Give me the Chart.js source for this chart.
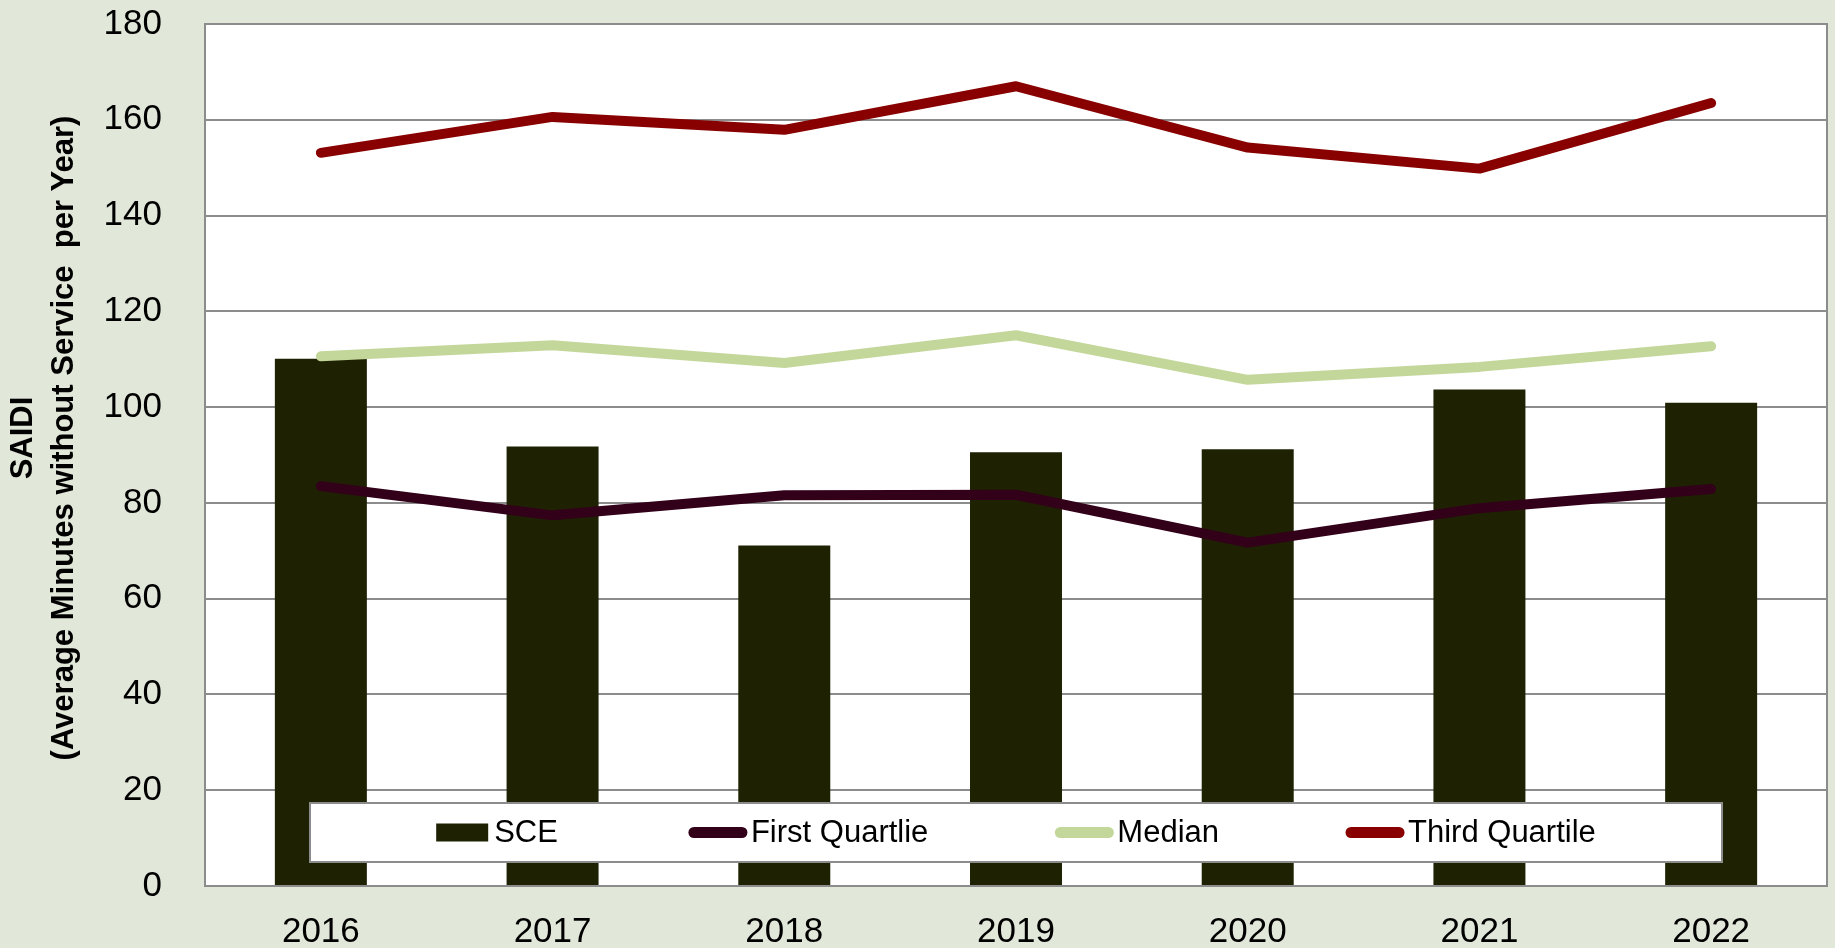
<!DOCTYPE html>
<html>
<head>
<meta charset="utf-8">
<script src="https://cdn.jsdelivr.net/npm/chart.js@4.4.0/dist/chart.umd.min.js"></script>
<style>
html,body{margin:0;padding:0;background:#E1E7D9;}
#wrap{width:1835px;height:948px;position:relative;}
</style>
</head>
<body>
<div id="wrap"><canvas id="c" width="1835" height="948"></canvas></div>
<script>
// ---- data ----
const years = ['2016', '2017', '2018', '2019', '2020', '2021', '2022'];
const sce = [110.1, 91.8, 71.1, 90.6, 91.2, 103.7, 100.9];
const firstQuartile = [83.5, 77.4, 81.6, 81.7, 71.7, 78.9, 82.9];
const median = [110.6, 112.9, 109.2, 115.0, 105.7, 108.4, 112.7];
const thirdQuartile = [153.1, 160.6, 157.9, 167.0, 154.2, 149.8, 163.5];
const seriesNames = ['SCE', 'First Quartlie', 'Median', 'Third Quartile'];
const yMin = 0, yMax = 180, yStep = 20;
const yTitle = ['SAIDI', '(Average Minutes without Service  per Year)'];

const FONT = '"Liberation Sans", Arial, Helvetica, sans-serif';
const BG = '#E1E7D9';
const GRID = '#8c8c8c';

const bgPlugin = {
  id: 'bgPlugin',
  beforeDraw(chart) {
    const ctx = chart.ctx, ca = chart.chartArea;
    ctx.save();
    ctx.fillStyle = BG;
    ctx.fillRect(0, 0, chart.width, chart.height);
    ctx.fillStyle = '#ffffff';
    ctx.fillRect(ca.left, ca.top, ca.right - ca.left, ca.bottom - ca.top);
    ctx.restore();
  },
  beforeDatasetsDraw(chart) {
    const ctx = chart.ctx, ca = chart.chartArea;
    ctx.save();
    ctx.strokeStyle = GRID;
    ctx.lineWidth = 2;
    ctx.strokeRect(ca.left, ca.top, ca.right - ca.left, ca.bottom - ca.top);
    ctx.restore();
  }
};

const legendPlugin = {
  id: 'boxLegend',
  afterDraw(chart) {
    const ctx = chart.ctx, ca = chart.chartArea;
    const bw = 1412, bh = 59;
    const bx = (ca.left + ca.right) / 2 - bw / 2;
    const by = ca.bottom - 24 - bh;
    ctx.save();
    ctx.fillStyle = '#ffffff';
    ctx.fillRect(bx, by, bw, bh);
    ctx.strokeStyle = GRID;
    ctx.lineWidth = 2;
    ctx.strokeRect(bx, by, bw, bh);
    ctx.font = '31px ' + FONT;
    const sw = 58, gap = 4, spacing = 127;
    const items = chart.data.datasets.map(d => ({
      label: d.label, type: d.type, color: d.type === 'bar' ? d.backgroundColor : d.borderColor
    }));
    const widths = items.map(it => sw + gap + ctx.measureText(it.label).width);
    const total = widths.reduce((a, b) => a + b, 0) + spacing * (items.length - 1);
    let x = bx + bw / 2 - total / 2;
    const cy = by + bh / 2;
    items.forEach((it, i) => {
      if (it.type === 'bar') {
        ctx.fillStyle = it.color;
        ctx.fillRect(x, cy - 9, 52, 18);
      } else {
        ctx.strokeStyle = it.color;
        ctx.lineWidth = 11;
        ctx.lineCap = 'round';
        ctx.beginPath();
        ctx.moveTo(x + 5, cy);
        ctx.lineTo(x + sw - 5, cy);
        ctx.stroke();
      }
      ctx.fillStyle = '#000000';
      ctx.textBaseline = 'middle';
      ctx.textAlign = 'left';
      ctx.fillText(it.label, x + (it.type === 'bar' ? 52 + 6 : sw + gap), cy + 1);
      x += widths[i] + spacing;
    });
    ctx.restore();
  }
};

const yTitlePlugin = {
  id: 'yTitle',
  afterDraw(chart) {
    const ctx = chart.ctx;
    ctx.save();
    ctx.translate(23, 438);
    ctx.rotate(-Math.PI / 2);
    ctx.textAlign = 'center';
    ctx.textBaseline = 'middle';
    ctx.fillStyle = '#000000';
    ctx.font = 'bold 31px ' + FONT;
    ctx.fillText(yTitle[0], 0, 0);
    ctx.fillText(yTitle[1], 0, 41);
    ctx.restore();
  }
};

const lineStyle = { borderWidth: 10, pointRadius: 0, pointHoverRadius: 0, borderCapStyle: 'round', borderJoinStyle: 'round', tension: 0, order: 1 };

new Chart(document.getElementById('c'), {
  data: {
    labels: years,
    datasets: [
      { type: 'bar', label: seriesNames[0], data: sce, backgroundColor: '#1E2202', borderWidth: 0,
        barPercentage: 0.397, categoryPercentage: 1.0, order: 2 },
      Object.assign({ type: 'line', label: seriesNames[1], data: firstQuartile, borderColor: '#33001A', backgroundColor: '#33001A' }, lineStyle),
      Object.assign({ type: 'line', label: seriesNames[2], data: median, borderColor: '#C4D79B', backgroundColor: '#C4D79B' }, lineStyle),
      Object.assign({ type: 'line', label: seriesNames[3], data: thirdQuartile, borderColor: '#880000', backgroundColor: '#880000' }, lineStyle)
    ]
  },
  options: {
    responsive: false,
    animation: false,
    devicePixelRatio: 1,
    layout: { padding: { top: 24, right: 8, left: 0, bottom: 0 } },
    plugins: {
      legend: { display: false },
      tooltip: { enabled: false },
      title: { display: false }
    },
    scales: {
      x: {
        grid: { display: false },
        border: { display: false },
        ticks: { font: { size: 35, family: FONT }, color: '#000000', padding: 17, maxRotation: 0, autoSkip: false },
        afterFit(s) { s.height = 62; s.paddingLeft = 0; s.paddingRight = 0; }
      },
      y: {
        min: yMin, max: yMax,
        grid: { color: GRID, lineWidth: 2, drawTicks: false },
        border: { display: false },
        ticks: { stepSize: yStep, font: { size: 35, family: FONT }, color: '#000000', padding: 43 },
        afterFit(s) { s.width = 205; s.paddingTop = 0; s.paddingBottom = 0; }
      }
    }
  },
  plugins: [bgPlugin, legendPlugin, yTitlePlugin]
});
</script>
</body>
</html>
